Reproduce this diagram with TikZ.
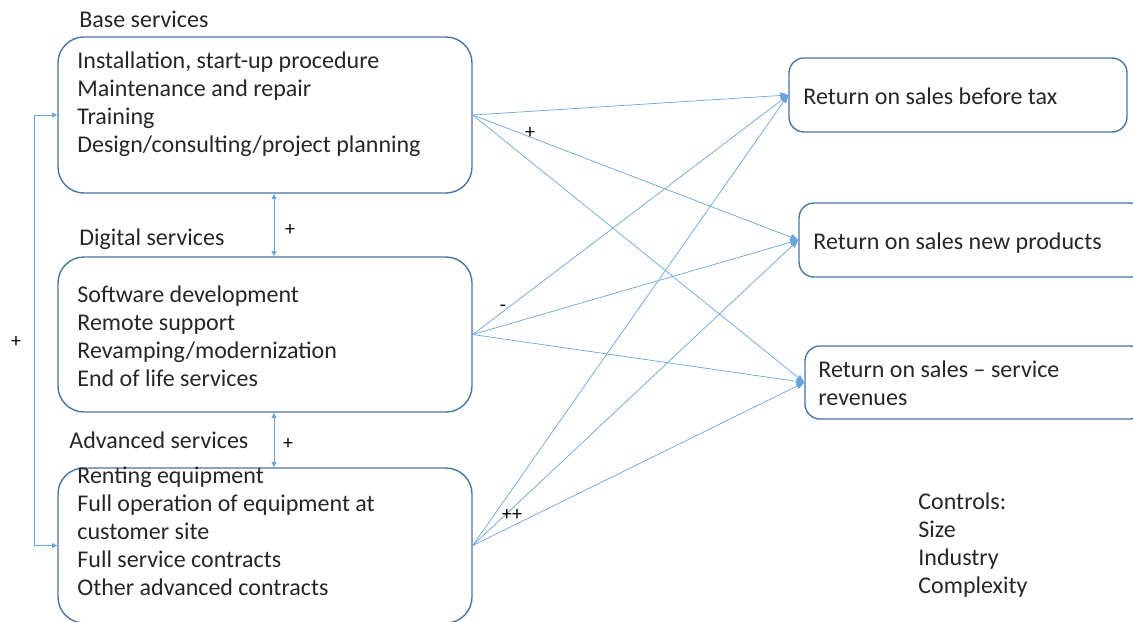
\documentclass[tikz,border=0pt]{standalone}
\usepackage{fontspec}
\setmainfont{Carlito}
\usetikzlibrary{positioning, arrows.meta}
\definecolor{boxblue}{RGB}{72,118,160}
\definecolor{linkblue}{RGB}{105,165,220}

\begin{document}
\begin{tikzpicture}[
        x=0.5pt, y=-0.5pt,
        font=\fontsize{12}{14}\selectfont,
        svcbox/.style={rectangle, draw=boxblue, line width=0.7pt, rounded corners=13pt, minimum width=207pt},
        outbox/.style={rectangle, draw=boxblue, line width=0.7pt, rounded corners=7.5pt, minimum height=37pt},
        txt/.style={inner sep=0pt, anchor=base west, align=left, text=black!85},
        sign/.style={inner sep=0pt, font=\fontsize{10}{12}\selectfont},
        link/.style={draw=linkblue, line width=0.35pt, -{Triangle[length=4pt, width=3.2pt]}},
        dlink/.style={draw=linkblue, line width=0.5pt, {Triangle[length=2.6pt, width=2.4pt]}-{Triangle[length=2.6pt, width=2.4pt]}}
    ]
    \useasboundingbox (0,0) rectangle (1133,621);

    % SERVICE BLOCKS (text anchored at the baseline of its last line)
    \node[svcbox, minimum height=78pt] (base) at (265,115) {};
    \node[txt] at (79,27) (baselab) {Base services};
    \node[txt] at (77,152) (basetxt) {Installation, start-up procedure\\Maintenance and repair\\Training\\Design/consulting/project planning};

    \node[svcbox, minimum height=77.5pt] (digi) at (265,334.5) {};
    \node[txt] at (79,245) (digilab) {Digital services};
    \node[txt] at (77,386) (digitxt) {Software development\\Remote support\\Revamping/modernization\\End of life services};

    \node[svcbox, minimum height=77.5pt] (adv) at (265,545.5) {};
    \node[txt] at (69,448) (advlab) {Advanced services};
    \node[txt] at (77,595) (advtxt) {Renting equipment\\Full operation of equipment at\\customer site\\Full service contracts\\Other advanced contracts};

    % OUTCOMES
    \node[outbox, minimum width=169pt] (ros) at (958,95) {};
    \node[txt] at (803,104) (rostxt) {Return on sales before tax};
    \node[outbox, minimum width=173pt] (rosnew) at (972,240) {};
    \node[txt] at (813,249) (rosnewtxt) {Return on sales new products};
    \node[outbox, minimum width=170pt, minimum height=36.5pt] (rossvc) at (975,382.5) {};
    \node[txt] at (818,405) (rossvctxt) {Return on sales -- service\\revenues};

    \node[txt] at (918,593) (ctrl) {Controls:\\Size\\Industry\\Complexity};

    % Links between service blocks
    \draw[dlink] ([xshift=4.5pt]base.south) -- ([xshift=4.5pt]digi.north);
    \draw[dlink] ([xshift=4.5pt]digi.south) -- ([xshift=4.5pt]adv.north);
    \draw[dlink] (base.west) -- ++(-23,0) |- (adv.west);
    \node[sign] at (290,230) (s1) {+};
    \node[sign] at (288,444) (s2) {+};
    \node[sign] at (16,342) (s3) {+};

    % Links to outcomes
    \foreach \src in {base, digi, adv}
        \foreach \dst in {ros, rosnew, rossvc}
            \draw[link] (\src.east) -- (\dst.west);
    \node[sign] at (530,133) (s4) {+};
    \node[sign] at (503,308) (s5) {-};
    \node[sign] at (512,515) (s6) {++};
\end{tikzpicture}
\end{document}
